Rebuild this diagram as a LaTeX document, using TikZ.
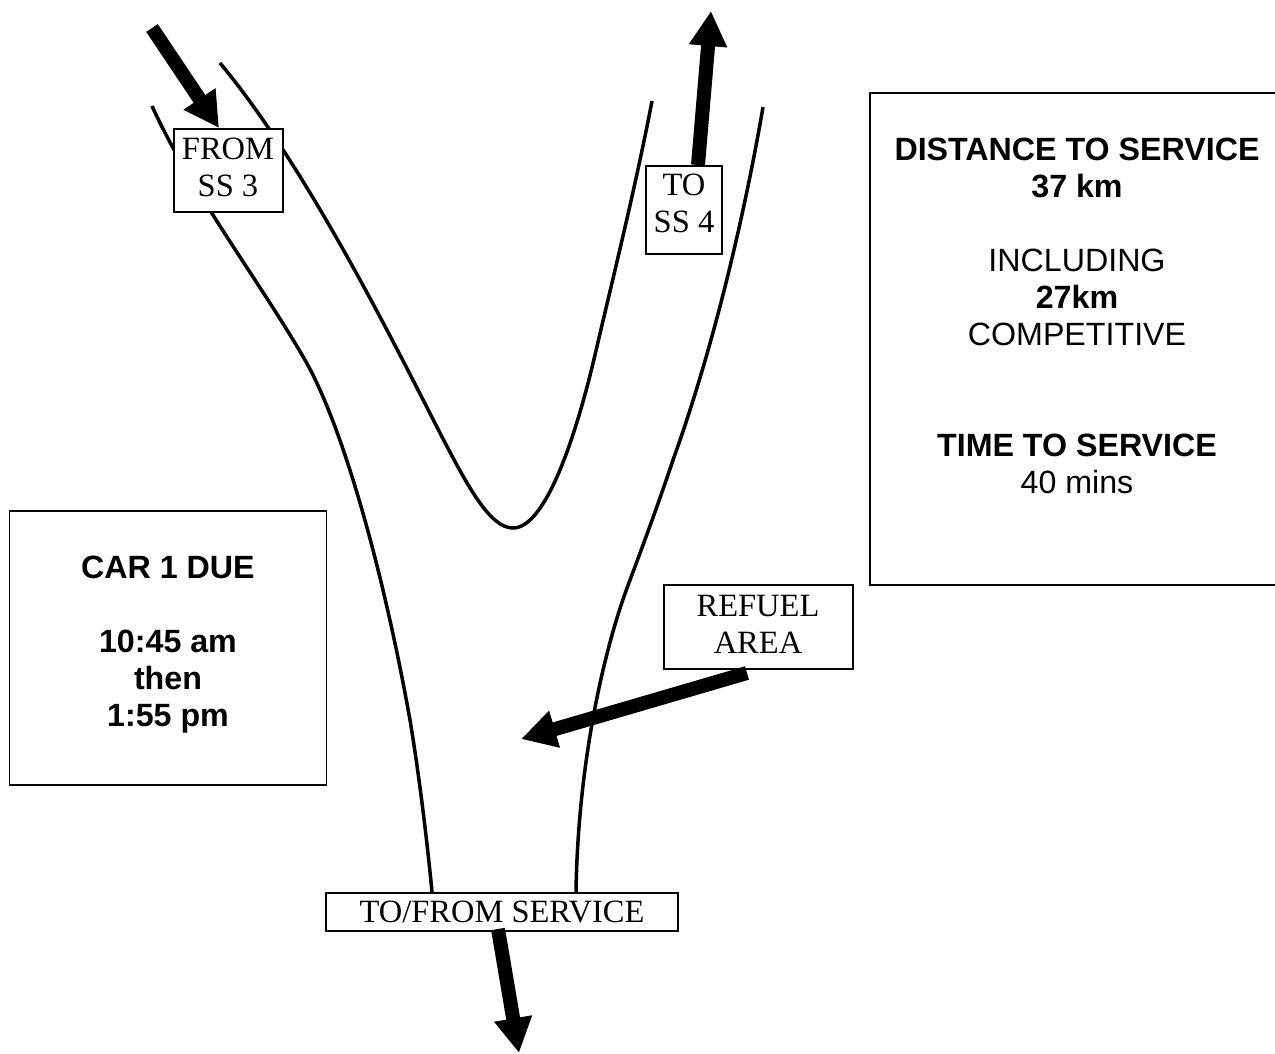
\documentclass[tikz,border=0pt]{standalone}
\usepackage{fontspec}
\setmainfont{Liberation Serif}
\setsansfont{Liberation Sans}
\usetikzlibrary{arrows.meta,positioning,calc}
\tikzset{
  roadline/.style={line width=3.5pt,line join=round},
  signbox/.style={draw=black,line width=2pt,fill=white,align=center,inner sep=0pt,font=\fontsize{32.5}{37}\selectfont},
  infobox/.style={draw=black,line width=1.6pt,fill=white,inner sep=0pt},
  infotext/.style={align=center,font=\sffamily\fontsize{32.2}{37}\selectfont},
  fatarrow/.style={line width=14pt,-{Triangle[width=36pt,length=35pt]}}
}
\begin{document}
\begin{tikzpicture}[x=1pt,y=-1pt]
  \useasboundingbox (0,0) rectangle (1275,1053);
  % road edges
  \draw[roadline] (152,106) .. controls (190,190) and (262,285) .. (305,360)
    .. controls (345,430) and (385,580) .. (410,720)
    .. controls (420,780) and (428,850) .. (432,892);
  \draw[roadline] (220,63) .. controls (305,165) and (390,335) .. (440,433)
    .. controls (468,487) and (490,528) .. (513,528)
    .. controls (545,528) and (575,440) .. (595,355)
    .. controls (610,290) and (635,190) .. (652,101);
  \draw[roadline] (763,107) .. controls (748,195) and (718,335) .. (673,460)
    .. controls (660,499) and (645,540) .. (630,580)
    .. controls (605,645) and (578,760) .. (576,892);
  % signs
  \node[signbox,minimum width=109pt,minimum height=83pt] (from) at (228,170.5) {FROM\\SS 3\\[-31pt]};
  \node[signbox,minimum width=76pt,minimum height=88pt] (to) at (684,210) {TO\\SS 4\\[-23pt]};
  \node[signbox,minimum width=189pt,minimum height=84pt] (refuel) at (758,627) {REFUEL\\AREA\\[-31pt]};
  \node[signbox,minimum width=352pt,minimum height=38pt] (service) at (502,912) {TO/FROM SERVICE};
  % info boxes
  \node[infobox,minimum width=406pt,minimum height=492pt] (dist) at (1073,339) {};
  \node[infobox,minimum width=317pt,minimum height=274pt] (car) at (168,648) {};
  \node[infotext,anchor=north] (disttext) at (1077,134) {\textbf{DISTANCE TO SERVICE}\\\textbf{37 km}\\[37pt]INCLUDING\\\textbf{27km}\\COMPETITIVE\\[74pt]\textbf{TIME TO SERVICE}\\40 mins};
  \node[infotext,anchor=north,font=\sffamily\bfseries\fontsize{32.2}{37}\selectfont] (cartext) at (168,552) {CAR 1 DUE\\[37pt]10:45 am\\then\\1:55 pm};
  % arrows
  \coordinate (fromtail) at (152,28);
  \coordinate (fromend) at ($(from.north)+(-9,0)$);
  \coordinate (totail) at ($(to.north)+(14,0)$);
  \coordinate (toend) at (711,11);
  \coordinate (refueltail) at ($(refuel.south)+(-11,3)$);
  \coordinate (refuelend) at (521,739);
  \coordinate (servicetail) at ($(service.south)+(-4,-3)$);
  \coordinate (serviceend) at (519,1053);
  \draw[fatarrow] (fromtail) -- (fromend);
  \draw[fatarrow] (totail) -- (toend);
  \draw[fatarrow] (refueltail) -- (refuelend);
  \draw[fatarrow] (servicetail) -- (serviceend);
\end{tikzpicture}
\end{document}
